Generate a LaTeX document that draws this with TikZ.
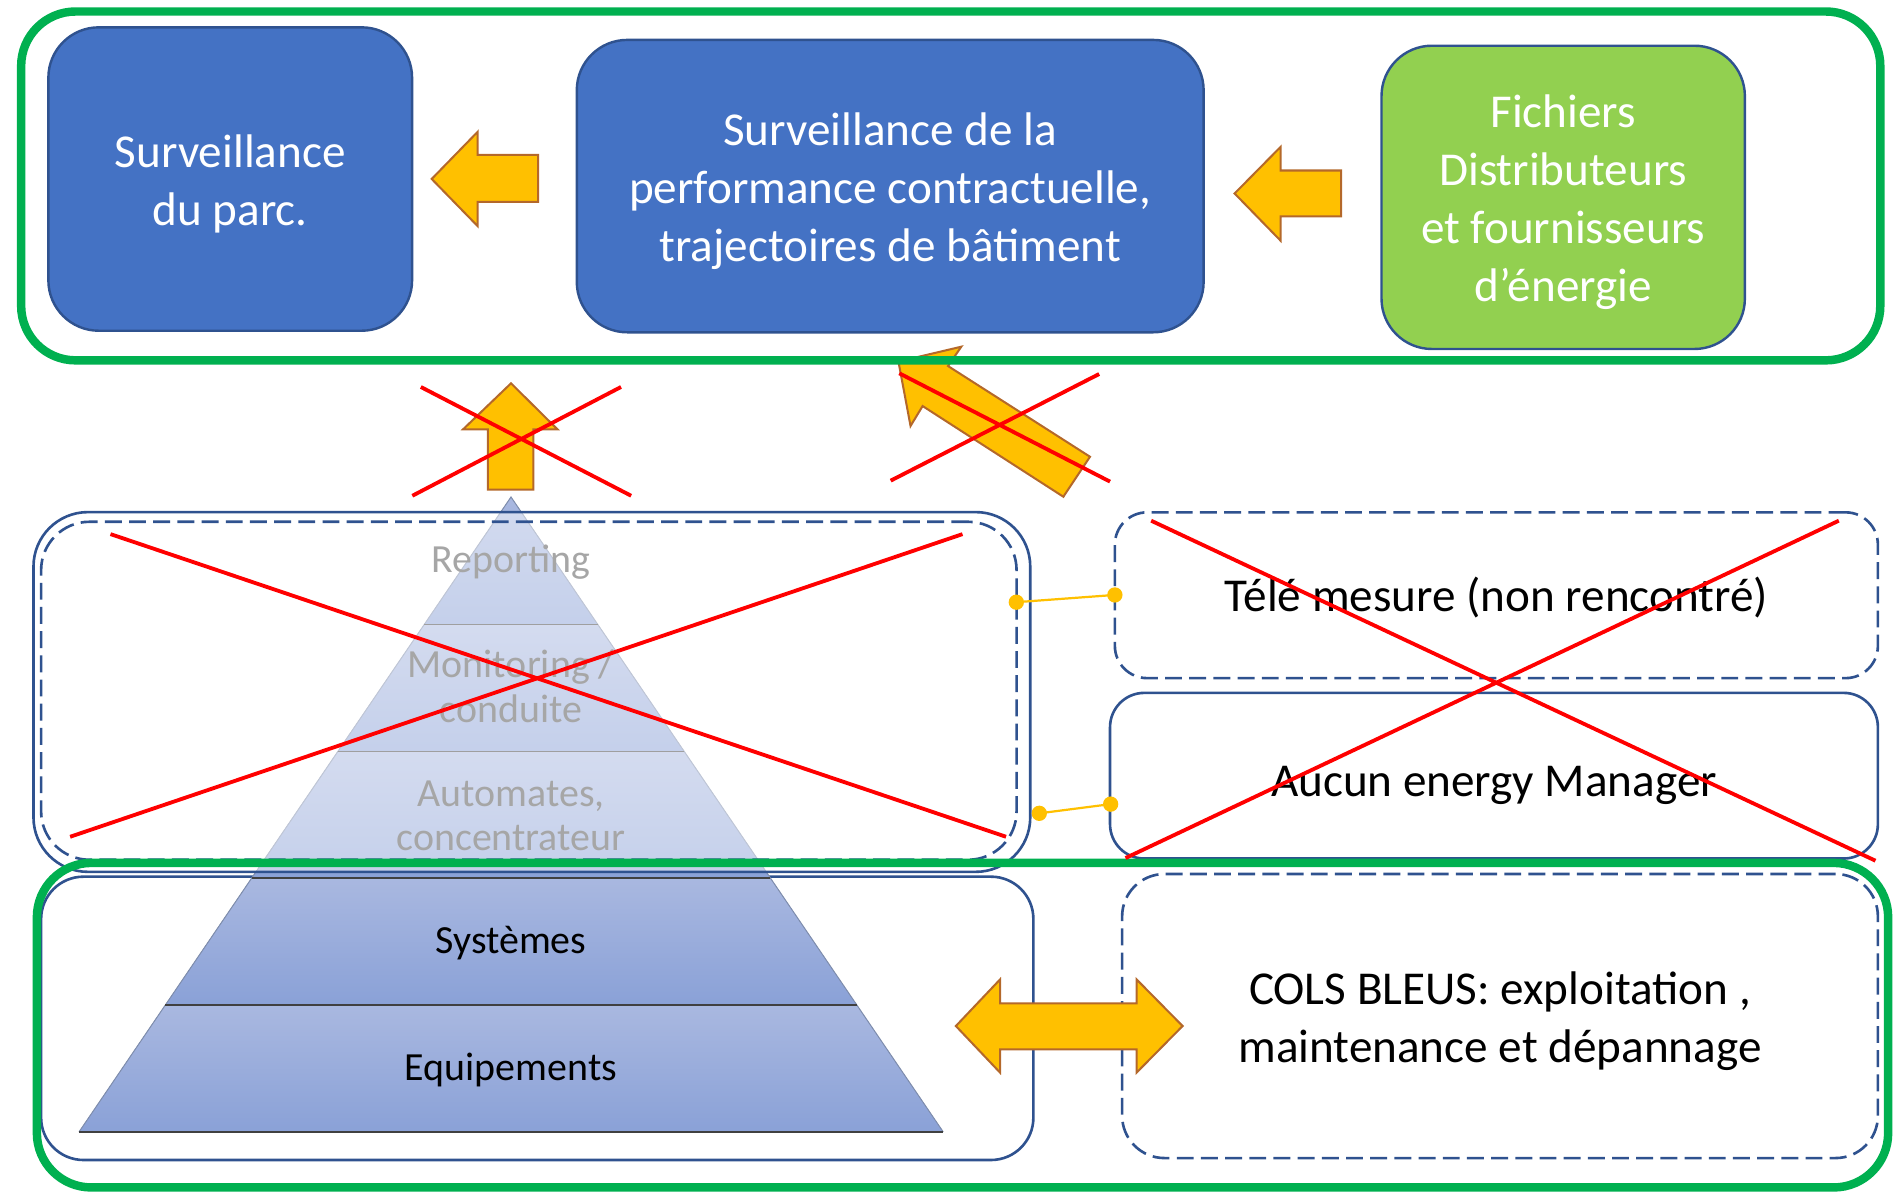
\documentclass[tikz,border=0pt]{standalone}
\usepackage{fontspec}
\setmainfont{Carlito}
\usetikzlibrary{fit}
\definecolor{boxblue}{HTML}{4472C4}
\definecolor{boxedge}{HTML}{2F528F}
\definecolor{boxgreen}{HTML}{92D050}
\definecolor{frameg}{HTML}{00B050}
\definecolor{arrowfill}{HTML}{FFC000}
\definecolor{arrowedge}{HTML}{B4682A}
\definecolor{pyrtop}{HTML}{A9B8E0}
\definecolor{pyrbot}{HTML}{8AA1D7}
\definecolor{pyrside}{HTML}{7F8EAE}
\definecolor{fadetext}{HTML}{A6A6A6}
\newcommand\mybigfont{\fontsize{23.4}{28.8}\selectfont}
\newcommand\mypyrfont{\fontsize{19.8}{21.9}\selectfont}
\begin{document}
\begin{tikzpicture}[x=0.6pt,y=-0.6pt,
  bluebox/.style={draw=boxedge, line width=1.2pt, fill=boxblue, rounded corners=25pt, inner sep=0pt, text=white, font=\mybigfont, align=center},
  greenbox/.style={bluebox, fill=boxgreen},
  frameline/.style={draw=frameg, line width=4.2pt, rounded corners=27pt, inner sep=0pt},
  blockarrow/.style={fill=arrowfill, draw=arrowedge, line width=1pt, line join=miter},
  solidbox/.style={draw=boxedge, line width=1.3pt, inner sep=0pt},
  dashbox/.style={draw=boxedge, line width=1.3pt, dash pattern=on 8.4pt off 3.6pt, inner sep=0pt},
  bodytext/.style={font=\mybigfont, align=center, inner sep=0pt, yshift=-2.4pt},
  pyrtext/.style={font=\mypyrfont, align=center, inner sep=0pt, yshift=-1.2pt},
  layer/.style={top color=pyrtop, bottom color=pyrbot},
  redx/.style={draw=red, line width=1.9pt},
  connline/.style={draw=arrowfill, line width=1.1pt},
  dotnode/.style={circle, fill=arrowfill, minimum size=7.6pt, inner sep=0pt}
]
\useasboundingbox (0,0) rectangle (1568,986);

% ---------- top boxes ----------
\coordinate (b1nw) at (40,22.6);   \coordinate (b1se) at (340.8,273.5);
\coordinate (b2nw) at (477,33);    \coordinate (b2se) at (995.4,274.8);
\coordinate (b3nw) at (1142.5,37.8); \coordinate (b3se) at (1443,288.6);
\node[bluebox, fit=(b1nw)(b1se)] (parc) {};
\node[bodytext, text=white] (parctxt) at (parc.center) {Surveillance\\du parc.};
\node[bluebox, fit=(b2nw)(b2se)] (perf) {};
\node[bodytext, text=white] (perftxt) at (perf.center) {Surveillance de la\\performance contractuelle,\\trajectoires de bâtiment};
\node[greenbox, fit=(b3nw)(b3se)] (fich) {};
\node[bodytext, text=white] (fichtxt) at (fich.center) {Fichiers\\Distributeurs\\et fournisseurs\\d’énergie};

% block arrows in top band
\draw[blockarrow] (357,148) -- (395,109) -- (395,128) -- (445,128) -- (445,167) -- (395,167) -- (395,187) -- cycle;
\draw[blockarrow] (1021,160) -- (1059,121.5) -- (1059,141) -- (1109,141) -- (1109,179) -- (1059,179) -- (1059,199) -- cycle;

% diagonal arrow (behind frame)
\draw[blockarrow] (743,299) -- (795,286.7) -- (784,302.7) -- (901.4,377.7) -- (879.4,410.8) -- (763,335.8) -- (753,352.3) -- cycle;

% top green frame
\coordinate (f1nw) at (17.5,9.5); \coordinate (f1se) at (1555,298);
\node[frameline, fit=(f1nw)(f1se)] (topframe) {};

% up arrow
\draw[blockarrow] (422.6,317) -- (461,355) -- (441,355) -- (441,405) -- (403.5,405) -- (403.5,355) -- (383,355) -- cycle;

% ---------- lower solid box ----------
\coordinate (lbnw) at (34,725); \coordinate (lbse) at (854.6,959.3);
\node[solidbox, rounded corners=21pt, fit=(lbnw)(lbse)] (lowbox) {};

% ---------- pyramid ----------
\fill[layer] (422.6,411) -- (494.4,516.5) -- (350.8,516.5) -- cycle;
\fill[layer] (350.8,516.5) -- (494.4,516.5) -- (565.9,621.5) -- (279.3,621.5) -- cycle;
\fill[layer] (279.3,621.5) -- (565.9,621.5) -- (637.0,726) -- (208.2,726) -- cycle;
\fill[layer] (208.2,726) -- (637.0,726) -- (708.4,831) -- (136.8,831) -- cycle;
\fill[layer] (136.8,831) -- (708.4,831) -- (780,936) -- (65.4,936) -- cycle;
\draw[pyrside, line width=0.5pt] (65.4,936) -- (422.6,411) -- (780,936);
\draw[black!75, line width=0.7pt] (350.8,516.5) -- (494.4,516.5)
  (279.3,621.5) -- (565.9,621.5) (208.2,726) -- (637.0,726)
  (136.8,831) -- (708.4,831) (65.4,936) -- (780,936);
\node[pyrtext] (sys) at (422.6,778) {Systèmes};
\node[pyrtext] (equip) at (422.6,883) {Equipements};

% overlay box (upper pyramid faded)
\coordinate (ubnw) at (27.7,423.5); \coordinate (ubse) at (852,721);
\node[solidbox, fill=white, fill opacity=0.5, rounded corners=27pt, fit=(ubnw)(ubse)] (upbox) {};
\coordinate (udnw) at (34,431.5); \coordinate (udse) at (840.7,711);
\node[dashbox, rounded corners=24pt, fit=(udnw)(udse)] (updash) {};
\node[pyrtext, text=fadetext] (rep) at (422.6,463) {Reporting};
\node[pyrtext, text=fadetext, yshift=1.2pt] (mon) at (422.6,567.5) {Monitoring /\\conduite};
\node[pyrtext, text=fadetext] (auto) at (422.6,673) {Automates,\\concentrateur};

% ---------- right boxes ----------
\coordinate (tnw) at (922,423.7); \coordinate (tse) at (1553,560.8);
\node[dashbox, rounded corners=16pt, fit=(tnw)(tse)] (tele) {};
\node[bodytext, yshift=1.2pt] (teletxt) at (tele.center) {Télé mesure (non rencontré)};
\coordinate (anw) at (918,573); \coordinate (ase) at (1553,710);
\node[solidbox, rounded corners=17pt, fit=(anw)(ase)] (aucun) {};
\node[bodytext, yshift=-2.4pt] (aucuntxt) at (aucun.center) {Aucun energy Manager};

% connectors
\node[dotnode] (d1) at (840.5,498) {};
\node[dotnode] (d2) at (922,492) {};
\node[dotnode] (d3) at (859.5,672.6) {};
\node[dotnode] (d4) at (918.5,665) {};
\draw[connline] (d1.center) -- (d2.center);
\draw[connline] (d3.center) -- (d4.center);

% COLS BLEUS box
\coordinate (cnw) at (928,722.8); \coordinate (cse) at (1553,957.7);
\node[dashbox, rounded corners=21pt, fit=(cnw)(cse)] (cols) {};
\node[bodytext] (colstxt) at (cols.center) {COLS BLEUS: exploitation ,\\maintenance et dépannage};

% double arrow
\draw[blockarrow] (790.5,848.5) -- (827,810) -- (827,829.7) -- (940,829.7) -- (940,810) -- (978,848.5) -- (940,887) -- (940,867.8) -- (827,867.8) -- (827,887) -- cycle;

% bottom green frame
\coordinate (f2nw) at (30.5,713.6); \coordinate (f2se) at (1561.5,982);
\node[frameline, fit=(f2nw)(f2se)] (botframe) {};

% ---------- red crosses ----------
\draw[redx] (348,320) -- (522,410) (513.6,320) -- (341,410);
\draw[redx] (743.7,308.7) -- (918,398.3) (909,309.3) -- (736.6,397.5);
\draw[redx] (91.4,441.7) -- (832,692) (796,441.7) -- (58,692);
\draw[redx] (952,430.6) -- (1551,711.8) (1520.7,430.6) -- (930.8,709.6);
\end{tikzpicture}
\end{document}
